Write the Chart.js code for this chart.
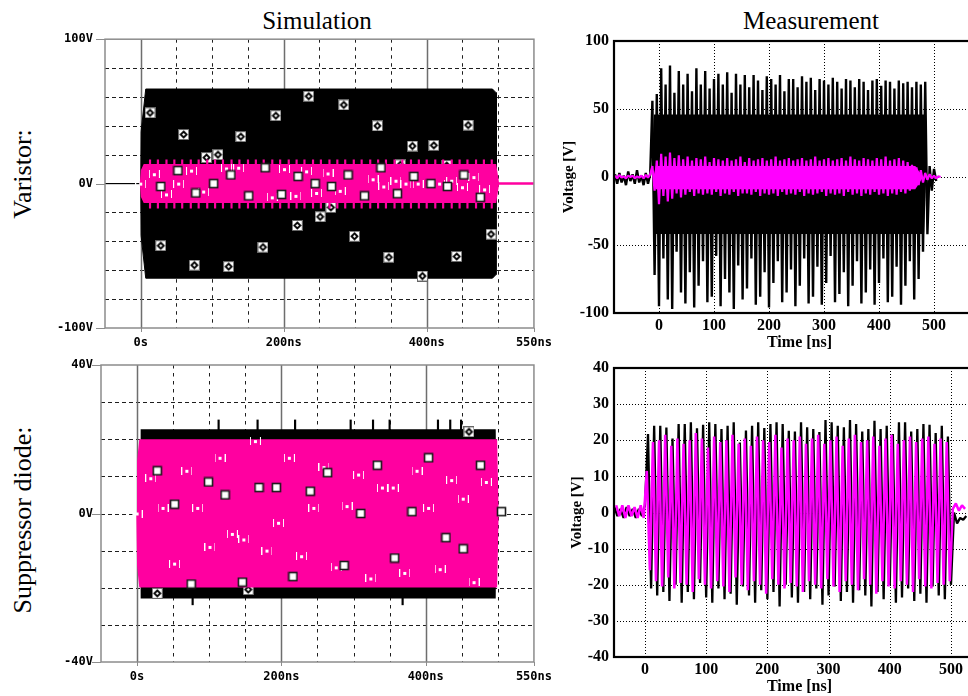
<!DOCTYPE html>
<html lang="en">
<head>
<meta charset="UTF-8">
<meta name="viewport" content="width=device-width, initial-scale=1.0">
<title>Varistor / suppressor diode - simulation vs measurement</title>
<style>
  html, body { margin: 0; padding: 0; background: #fff; }
  body { position: relative; width: 968px; height: 696px; overflow: hidden; color: #000;
         font-family: 'Liberation Serif', 'Times New Roman', serif; }
  .panel { position: absolute; }
  .panel canvas { display: block; }
  .head { position: absolute; top: 8px; font-size: 25px; line-height: 25px; transform: translateX(-50%); white-space: nowrap; }
  .side { position: absolute; font-size: 26px; line-height: 26px; transform: translate(-50%, -50%) rotate(-90deg); white-space: nowrap; }
</style>
</head>
<body>
<div class="head" style="left:317px">Simulation</div>
<div class="head" style="left:811px">Measurement</div>
<div class="side" style="left:23px;top:174px">Varistor:</div>
<div class="side" style="left:23px;top:520px">Suppressor diode:</div>

<div class="panel" style="left:30px;top:20px"><canvas id="simVar" width="530" height="332"></canvas></div>
<div class="panel" style="left:545px;top:25px"><canvas id="measVar" width="440" height="327"></canvas></div>
<div class="panel" style="left:30px;top:345px"><canvas id="simSup" width="530" height="345"></canvas></div>
<div class="panel" style="left:545px;top:352px"><canvas id="measSup" width="440" height="344"></canvas></div>

<script src="https://cdn.jsdelivr.net/npm/chart.js"></script>
<script>
// ---------- simulation (PSpice) axes ----------
const simXTicks = [0, 200, 400, 550];
const simXTickLabels = ['0s', '200ns', '400ns', '550ns'];
const simXGridDashed = [50, 100, 150, 250, 300, 350, 450, 500];
const simXGridSolid = [0, 200, 400];

// ---------- simulation, varistor ----------
const simVarYTicks = [-100, 0, 100];
const simVarYTickLabels = ['-100V', '0V', '100V'];
const simVarYGrid = [-80, -60, -40, -20, 20, 40, 60, 80];

// envelope of the (unresolved) oscillation
const simVarBlackT  = [-50, 0, 0.5, 7, 492, 497, 497.5];
const simVarBlackHi = [0, 0, 36, 65.5, 65.5, 63, 0];
const simVarBlackLo = [0, 0, -36, -65.5, -65.5, -63, 0];
const simVarPinkT  = [0, 1.5, 5, 496, 500, 550];
const simVarPinkHi = [0, 9, 12.8, 12.8, 0, 0];
const simVarPinkLo = [0, -9, -12.8, -12.8, 0, 0];
const simVarSpikeT = [13, 24, 36, 47, 58, 70, 81, 93, 104, 115, 127, 138, 150, 161, 172,
  184, 195, 207, 218, 229, 241, 252, 264, 275, 286, 298, 309, 321, 332, 343, 355, 366,
  378, 389, 400, 412, 423, 435, 446, 457, 469, 480, 491];
const simVarSpikeUp = [12.5, 16.5];
const simVarSpikeDown = [-17, -12.5];

// trace markers
const simVarDiamondT = [13, 28, 60, 75, 92, 108, 123, 140, 171, 189, 219, 235, 251, 266, 284, 299, 331, 347, 363, 380, 394, 410, 428, 442, 458, 490];
const simVarDiamondV = [49, -43, 34, -56.5, 18, 20, -57.5, 32.5, -44, 47, -29, 60.5, -23, -16.5, 54.5, -36.5, 40, -51, 13, 26, -64, 26.5, 12.5, -50.5, 40.5, -35];
const simVarSquareT = [28, 52, 77, 102, 126, 151, 174, 197, 220, 244, 267, 290, 313, 336, 359, 382, 406, 429, 452, 475];
const simVarSquareV = [-2, 9, -6.5, 0, 6, -8.5, 11, -7.5, 5, 0, -2, 6, -8.5, 11, -7, 5, 0, -2, 6, -9.5];
const simVarDotT = [0, 19, 36, 53, 71, 88, 120, 137, 184, 201, 217, 232, 246, 262, 279, 325, 340, 357, 371, 388, 418, 435, 450, 466, 481];
const simVarDotV = [0, 6.5, -7.5, 0, 9, -5.5, 10.5, 11, -9.5, 10, -8.5, 8.5, -6.5, 7, -5, 3, -2, 2, 0, 0, 0, 2, -2.5, 4.5, -4];

// ---------- simulation, suppressor diode ----------
const simSupYTicks = [-40, 0, 40];
const simSupYTickLabels = ['-40V', '0V', '40V'];
const simSupYGrid = [-30, -20, -10, 0, 10, 20, 30];

const simSupBlackT  = [0, 5.5, 6, 496, 497];
const simSupBlackHi = [0, 0, 22.5, 22.5, 0];
const simSupBlackLo = [0, 0, -22.7, -22.7, 0];
const simSupPinkT  = [0, 1, 4, 498, 500, 505];
const simSupPinkHi = [0, 14, 19.8, 19.8, 0, 0];
const simSupPinkLo = [0, -14, -19.7, -19.7, 0, 0];
const simSupSpikeUpT = [113, 167, 219, 296, 327, 350, 417, 434, 449];
const simSupSpikeUp = [22.3, 25.2];
const simSupSpikeDownT = [77, 368];
const simSupSpikeDown = [-24.6, -22.5];

const simSupDiamondT = [28, 154, 460];
const simSupDiamondV = [-21.5, -20.5, 22];
const simSupSquareT = [28, 52, 75, 99, 122, 146, 169, 193, 216, 240, 264, 287, 310, 333, 357, 381, 404, 428, 452, 476, 505];
const simSupSquareV = [11.5, 2.5, -19, 8.5, 5, -18.5, 7, 7, -17, 6, 11, -14, 0, 13, -12, 0.5, 15, -6.5, -9.5, 13, 0.5];
const simSupDotT = [0, 19, 36, 52, 69, 84, 101, 115, 132, 148, 164, 180, 196, 211, 228, 245, 259, 276, 291, 307,
  324, 340, 355, 371, 388, 404, 420, 436, 452, 467, 484];
const simSupDotV = [0, 9.5, 1.5, -13.5, 11.5, 1.5, -9, 15, -5.5, -7, 19.5, -10, -2.5, 15, -11.5, 1.5, 12.5, -14.5, 2, 10.5,
  -17.5, 7, 7, -16, 11.5, 1.5, -15, 9, 4, -18.5, 8.5];

// ---------- measurement axes ----------
const measXTicks = [0, 100, 200, 300, 400, 500];
const measVarYTicks = [-100, -50, 0, 50, 100];
const measSupYTicks = [-40, -30, -20, -10, 0, 10, 20, 30, 40];

// ---------- measurement, varistor (peak samples) ----------
const measVarT = [
  -80, -76, -72, -68, -64, -60, -56, -52, -48, -44, -40, -36, -32, -28, -24,
  -20, -16, -12, -8, -4, 0, 4, 8, 12, 16, 20, 24, 28, 32, 36,
  40, 44, 48, 52, 56, 60, 64, 68, 72, 76, 80, 84, 88, 92, 96,
  100, 104, 108, 112, 116, 120, 124, 128, 132, 136, 140, 144, 148, 152, 156,
  160, 164, 168, 172, 176, 180, 184, 188, 192, 196, 200, 204, 208, 212, 216,
  220, 224, 228, 232, 236, 240, 244, 248, 252, 256, 260, 264, 268, 272, 276,
  280, 284, 288, 292, 296, 300, 304, 308, 312, 316, 320, 324, 328, 332, 336,
  340, 344, 348, 352, 356, 360, 364, 368, 372, 376, 380, 384, 388, 392, 396,
  400, 404, 408, 412, 416, 420, 424, 428, 432, 436, 440, 444, 448, 452, 456,
  460, 464, 468, 472, 476, 480, 484, 488, 492, 496, 500, 504, 508, 512, 516
];
const measVarBlack = [
  2, -5, 3, -4, 1, -6, 4, -3, 2, -5, 5, -4, 1, -6, 3, -5, 2,
  56, -72, 61, -95, 80, -60, 68, -90, 82, -97, 62, -55, 78, -85, 68, -93, 76, -70, 63, -96,
  80, -80, 68, -62, 78, -92, 65, -88, 72, -58, 76, -95, 68, -75, 77, -85, 62, -97, 76, -65,
  68, -90, 75, -82, 66, -60, 75, -94, 71, -88, 64, -70, 74, -96, 72, -78, 68, -62, 75, -92,
  63, -85, 72, -68, 72, -95, 66, -80, 74, -60, 70, -93, 73, -88, 64, -66, 72, -94, 71, -78,
  68, -58, 73, -92, 70, -86, 65, -70, 72, -95, 71, -80, 66, -62, 72, -93, 70, -85, 64, -68,
  71, -94, 72, -78, 67, -60, 71, -92, 70, -88, 65, -66, 71, -94, 69, -80, 70, -62, 66, -90,
  70, -75, 68, -55, 70,
  -42, 8, -10, 6, -3, null, null, null
];
const measVarMagenta = [
  1, -1, 1.5, -0.5, 0.5, -1, 1, 0, 1, -1, 0.5, -0.5, 1, -1, 1.5, -0.5, 2,
  8, -10, 12, -20, 17, -14, 15, -18, 18, -16, 14, -12, 16, -15, 13, -13, 15, -11, 12, -14,
  14, -12, 13, -13, 15, -12, 11, -13, 14, -11, 13, -14, 12, -12, 14, -13, 12, -11, 13, -14,
  15, -12, 11, -12, 14, -13, 12, -11, 13, -14, 14, -12, 12, -13, 13, -12, 15, -14, 12, -11,
  13, -13, 14, -12, 12, -13, 13, -11, 14, -14, 12, -12, 13, -13, 15, -12, 12, -11, 13, -14,
  14, -12, 12, -13, 13, -12, 14, -14, 12, -11, 15, -13, 13, -12, 12, -14, 14, -12, 13, -13,
  12, -11, 14, -13, 13, -12, 15, -14, 12, -12, 13, -13, 14, -11, 12, -12, 11, -10, 9, -8,
  7, -6, 5, -4, 3,
  -2, 2, -1, 1, -1, 0.5, 0, null
];
// dense centre of the black and magenta bursts
const measVarCoreT  = [-12, -9, 482, 486];
const measVarCoreHi = [0, 46, 46, 0];
const measVarCoreLo = [0, -42, -42, 0];
const measVarMagCoreT  = [-10, -6, 466, 480];
const measVarMagCoreHi = [0, 8, 8, 0];
const measVarMagCoreLo = [0, -9, -9, 0];

// ---------- measurement, suppressor diode (peak samples) ----------
const measSupBlackT = [
  -50, -45, -40, -35, -30, -25, -20, -15, -10, -5,
  0, 5, 10, 15, 20, 25, 30, 35, 40, 45,
  50, 55, 60, 65, 70, 75, 80, 85, 90, 95,
  100, 105, 110, 115, 120, 125, 130, 135, 140, 145,
  150, 155, 160, 165, 170, 175, 180, 185, 190, 195,
  200, 205, 210, 215, 220, 225, 230, 235, 240, 245,
  250, 255, 260, 265, 270, 275, 280, 285, 290, 295,
  300, 305, 310, 315, 320, 325, 330, 335, 340, 345,
  350, 355, 360, 365, 370, 375, 380, 385, 390, 395,
  400, 405, 410, 415, 420, 425, 430, 435, 440, 445,
  450, 455, 460, 465, 470, 475, 480, 485, 490, 495,
  500, 505, 510, 515, 520, 525
];
const measSupBlack = [
  1.5, -1, 1, -1.5, 1.5, -1, 1, -1.5, 1, -1,
  2,
  21.7, -21, 24, -23, 24, -22, 23.5, -24.5, 20.5, -20, 24.5, -25, 24.5, -22, 25, -24, 23.3, -19.5, 24.3, -23.5,
  25, -25, 24.5, -21, 23.1, -24, 24, -22.5, 25, -25.5, 19.4, -20.5, 22.7, -23, 24, -25, 25, -21.5, 23.4, -24,
  24.5, -22, 25, -26, 24.5, -20, 22.6, -23.5, 22.4, -25, 25, -22, 23.6, -24, 23.1, -21, 22.3, -25.5, 25.6, -23,
  25, -20.5, 24, -24.5, 23.6, -22, 25.6, -25, 24.5, -21.5, 22.4, -23, 23.1, -26, 25.4, -22, 23.1, -24, 24, -20,
  21.7, -25, 25, -23.5, 25, -21, 22.4, -24.5, 23.1, -22.5, 24.5, -25, 24.3, -20.5, 22, -23, 24, -24, 21, -20,
  0, -3, -1.5, -2, -1
];
const measSupMagT = [
  -47, -42, -37, -32, -27, -22, -17, -12, -7, -2,
  3, 8, 13, 18, 23, 28, 33, 38, 43, 48,
  53, 58, 63, 68, 73, 78, 83, 88, 93, 98,
  103, 108, 113, 118, 123, 128, 133, 138, 143, 148,
  153, 158, 163, 168, 173, 178, 183, 188, 193, 198,
  203, 208, 213, 218, 223, 228, 233, 238, 243, 248,
  253, 258, 263, 268, 273, 278, 283, 288, 293, 298,
  303, 308, 313, 318, 323, 328, 333, 338, 343, 348,
  353, 358, 363, 368, 373, 378, 383, 388, 393, 398,
  403, 408, 413, 418, 423, 428, 433, 438, 443, 448,
  453, 458, 463, 468, 473, 478, 483, 488, 493, 498,
  503, 508, 513, 518, 523
];
const measSupMagenta = [
  2, -1, 2, -1.5, 2, -1, 1.5, -1.5, 2, -1.5,
  11.5, -16, 19.5, -19, 20, -20.5, 21.5, -18, 18.5, -21, 20.5, -19.5, 19, -20, 20, -22, 22, -18.5, 20.5, -20,
  18, -21, 21, -19, 19.5, -20.5, 20, -22, 21.5, -18, 19, -20, 20.5, -21.5, 18.5, -19, 21, -20, 20, -22.5,
  19.5, -18.5, 21.5, -20, 18, -21, 20.5, -19.5, 20, -20.5, 21, -22, 19, -19, 20.5, -20, 21.5, -21, 19, -18.5,
  20, -20.5, 21, -22, 18.5, -19, 20.5, -20, 21.5, -21.5, 19.5, -18.5, 20, -20, 21, -22.5, 18.5, -19, 20.5, -20.5,
  21.5, -21, 19, -19, 20, -20, 21, -22, 19.5, -18.5, 20.5, -20.5, 21, -21, 19, -19.5, 20.5, -20, 19.5, -19,
  1, 2.5, 0.5, 2, 1
];

// ---------- helpers ----------
const PINK = '#ff00a0';
const MAGENTA = '#ff00ff';
const pts = (T, V) => T.map((t, i) => ({ x: t, y: V[i] }));
const bars = (T, range) => T.map(t => ({ x: t, y: range }));

function mark(w, h, paint) {
  const c = document.createElement('canvas');
  c.width = w;
  c.height = h;
  paint(c.getContext('2d'));
  return c;
}
const squareMark = mark(11, 11, g => {
  g.fillStyle = '#fff';
  g.fillRect(1, 1, 9, 9);
  g.strokeStyle = '#1a1a1a';
  g.lineWidth = 1.6;
  g.strokeRect(1.5, 1.5, 8, 8);
});
const diamondMark = mark(11, 11, g => {
  g.fillStyle = '#fff';
  g.fillRect(0, 0, 11, 11);
  g.strokeStyle = '#666';
  g.lineWidth = 1;
  g.strokeRect(0.5, 0.5, 10, 10);
  g.strokeStyle = '#000';
  g.lineWidth = 1.8;
  g.beginPath();
  g.moveTo(5.5, 2.5); g.lineTo(8.5, 5.5); g.lineTo(5.5, 8.5); g.lineTo(2.5, 5.5);
  g.closePath();
  g.stroke();
});
const dotMark = mark(11, 8, g => {
  g.fillStyle = '#fff';
  g.fillRect(0, 0, 1, 8);
  g.fillRect(10, 0, 1, 8);
  g.fillRect(4, 3, 3, 3);
});

// grid lines + frame, drawn through the chart's own scales
const gridFrame = {
  id: 'gridFrame',
  beforeDatasetsDraw(chart, args, o) {
    const { ctx, chartArea: a, scales: { x, y } } = chart;
    const vline = v => { const p = Math.round(x.getPixelForValue(v)) + 0.5; ctx.beginPath(); ctx.moveTo(p, a.top); ctx.lineTo(p, a.bottom); ctx.stroke(); };
    const hline = v => { const p = Math.round(y.getPixelForValue(v)) + 0.5; ctx.beginPath(); ctx.moveTo(a.left, p); ctx.lineTo(a.right, p); ctx.stroke(); };
    ctx.save();
    ctx.strokeStyle = o.gridColor;
    ctx.lineWidth = o.gridWidth;
    ctx.setLineDash(o.xDash);
    o.xLines.forEach(vline);
    ctx.setLineDash(o.yDash);
    o.yLines.forEach(hline);
    if (o.solidLines) {
      ctx.setLineDash([]);
      ctx.strokeStyle = o.solidColor;
      ctx.lineWidth = o.solidWidth;
      o.solidLines.forEach(vline);
    }
    ctx.restore();
  },
  afterDatasetsDraw(chart, args, o) {
    const { ctx, chartArea: a, scales: { x, y } } = chart;
    ctx.save();
    ctx.strokeStyle = o.frameColor;
    ctx.lineWidth = o.frameWidth;
    ctx.strokeRect(a.left, a.top, a.right - a.left, a.bottom - a.top);
    if (o.tickLen) {
      ctx.lineWidth = 1;
      o.yTicks.forEach(v => { const p = Math.round(y.getPixelForValue(v)) + 0.5; ctx.beginPath(); ctx.moveTo(a.left - o.tickLen, p); ctx.lineTo(a.left, p); ctx.stroke(); });
      o.xTicks.forEach(v => { const p = Math.round(x.getPixelForValue(v)) + 0.5; ctx.beginPath(); ctx.moveTo(p, a.bottom); ctx.lineTo(p, a.bottom + 4); ctx.stroke(); });
    }
    ctx.restore();
  }
};

Chart.defaults.color = '#000';
const pspiceFont = { family: "'DejaVu Sans Mono', monospace", size: 12, weight: 'bold' };
const measFont = { family: "'Liberation Serif', serif", size: 16, weight: 'bold' };

function simOptions(o) {
  return {
    responsive: false, animation: false, devicePixelRatio: 1, events: [],
    layout: { padding: { top: o.padTop, right: 26, left: 0, bottom: 0 } },
    plugins: {
      legend: { display: false }, tooltip: { enabled: false },
      gridFrame: {
        xLines: simXGridDashed, yLines: o.yGrid, xDash: [3.5, 4.5], yDash: [4, 3],
        gridColor: '#1e1e1e', gridWidth: 1,
        solidLines: simXGridSolid, solidColor: '#6e6e6e', solidWidth: 1.5,
        frameColor: '#8c8c8c', frameWidth: 1.5,
        tickLen: 9, yTicks: o.yTicks, xTicks: simXTicks
      }
    },
    scales: {
      x: {
        type: 'linear', min: -50, max: 550, offset: false,
        afterBuildTicks: s => { s.ticks = simXTicks.map(v => ({ value: v })); },
        afterFit: s => { s.height = o.xAxisH; },
        grid: { display: false, drawTicks: false }, border: { display: false },
        ticks: { padding: 8, font: pspiceFont, maxRotation: 0, autoSkip: false, callback: (v, i) => simXTickLabels[i] }
      },
      y: {
        type: 'linear', min: o.yTicks[0], max: o.yTicks[o.yTicks.length - 1],
        afterBuildTicks: s => { s.ticks = o.yTicks.map(v => ({ value: v })); },
        afterFit: s => { s.width = o.yAxisW; },
        grid: { display: false, drawTicks: false }, border: { display: false },
        ticks: { padding: o.yPad, font: pspiceFont, autoSkip: false, callback: (v, i) => o.yLabels[i] }
      }
    }
  };
}

function measOptions(o) {
  return {
    responsive: false, animation: false, devicePixelRatio: 1, events: [],
    layout: { padding: { top: 16, right: 0, left: 0, bottom: 0 } },
    elements: { line: { borderJoinStyle: 'bevel' } },
    plugins: {
      legend: { display: false }, tooltip: { enabled: false },
      gridFrame: {
        xLines: measXTicks, yLines: o.yTicks, xDash: [1, 2], yDash: [1, 2],
        gridColor: '#000', gridWidth: 1, frameColor: '#000', frameWidth: 2.2
      }
    },
    scales: {
      x: {
        type: 'linear', min: o.xMin, max: o.xMax, offset: false,
        afterBuildTicks: s => { s.ticks = measXTicks.map(v => ({ value: v })); },
        afterFit: s => { s.height = 39; },
        grid: { display: false, drawTicks: false }, border: { display: false },
        ticks: { padding: 3, font: measFont, maxRotation: 0, autoSkip: false, callback: v => String(v) },
        title: { display: true, text: 'Time [ns]', font: measFont, padding: 0 }
      },
      y: {
        type: 'linear', min: o.yTicks[0], max: o.yTicks[o.yTicks.length - 1],
        afterBuildTicks: s => { s.ticks = o.yTicks.map(v => ({ value: v })); },
        afterFit: s => { s.width = 69; },
        grid: { display: false, drawTicks: false }, border: { display: false },
        ticks: { padding: 5, font: measFont, autoSkip: false, callback: v => String(v) },
        title: { display: true, text: 'Voltage [V]', font: { family: "'Liberation Serif', serif", size: 15, weight: 'bold' },
                 padding: { top: o.yTitlePad, bottom: 0 } }
      }
    }
  };
}

// ---------- simulation, varistor ----------
new Chart(document.getElementById('simVar'), {
  type: 'line',
  data: {
    datasets: [
      { data: pts(simVarBlackT, simVarBlackHi), borderColor: '#000', backgroundColor: '#000', borderWidth: 1, fill: '+1', pointRadius: 0, order: 10 },
      { data: pts(simVarBlackT, simVarBlackLo), borderColor: '#000', borderWidth: 1, fill: false, pointRadius: 0, order: 10 },
      { data: pts(simVarDiamondT, simVarDiamondV), showLine: false, pointStyle: diamondMark, pointRadius: 5, order: 9 },
      { data: pts(simVarPinkT, simVarPinkHi), borderColor: PINK, backgroundColor: PINK, borderWidth: 2, fill: '+1', pointRadius: 0, order: 8 },
      { data: pts(simVarPinkT, simVarPinkLo), borderColor: PINK, borderWidth: 2, fill: false, pointRadius: 0, order: 8 },
      { type: 'bar', data: bars(simVarSpikeT, simVarSpikeUp).concat(bars(simVarSpikeT, simVarSpikeDown)),
        backgroundColor: PINK, barThickness: 1.5, grouped: false, order: 7 },
      { data: pts(simVarDotT, simVarDotV), showLine: false, pointStyle: dotMark, pointRadius: 5, order: 6 },
      { data: pts(simVarSquareT, simVarSquareV), showLine: false, pointStyle: squareMark, pointRadius: 5, order: 5 }
    ]
  },
  options: simOptions({ padTop: 18, xAxisH: 24, yAxisW: 75, yPad: 12, yTicks: simVarYTicks, yLabels: simVarYTickLabels, yGrid: simVarYGrid }),
  plugins: [gridFrame]
});

// ---------- simulation, suppressor diode ----------
new Chart(document.getElementById('simSup'), {
  type: 'line',
  data: {
    datasets: [
      { data: pts(simSupBlackT, simSupBlackHi), borderColor: '#000', backgroundColor: '#000', borderWidth: 1.5, fill: '+1', pointRadius: 0, order: 10 },
      { data: pts(simSupBlackT, simSupBlackLo), borderColor: '#000', borderWidth: 1.5, fill: false, pointRadius: 0, order: 10 },
      { type: 'bar', data: bars(simSupSpikeUpT, simSupSpikeUp).concat(bars(simSupSpikeDownT, simSupSpikeDown)),
        backgroundColor: '#000', barThickness: 1.5, grouped: false, order: 10 },
      { data: pts(simSupDiamondT, simSupDiamondV), showLine: false, pointStyle: diamondMark, pointRadius: 5, order: 9 },
      { data: pts(simSupPinkT, simSupPinkHi), borderColor: PINK, backgroundColor: PINK, borderWidth: 1.5, fill: '+1', pointRadius: 0, order: 8 },
      { data: pts(simSupPinkT, simSupPinkLo), borderColor: PINK, borderWidth: 1.5, fill: false, pointRadius: 0, order: 8 },
      { data: pts(simSupDotT, simSupDotV), showLine: false, pointStyle: dotMark, pointRadius: 5, order: 6 },
      { data: pts(simSupSquareT, simSupSquareV), showLine: false, pointStyle: squareMark, pointRadius: 5, order: 5 }
    ]
  },
  options: simOptions({ padTop: 20, xAxisH: 28, yAxisW: 71, yPad: 8, yTicks: simSupYTicks, yLabels: simSupYTickLabels, yGrid: simSupYGrid }),
  plugins: [gridFrame]
});

// ---------- measurement, varistor ----------
new Chart(document.getElementById('measVar'), {
  type: 'line',
  data: {
    datasets: [
      { data: pts(measVarCoreT, measVarCoreHi), borderWidth: 0, borderColor: '#000', backgroundColor: '#000', fill: '+1', pointRadius: 0, order: 6 },
      { data: pts(measVarCoreT, measVarCoreLo), borderWidth: 0, borderColor: '#000', fill: false, pointRadius: 0, order: 6 },
      { data: pts(measVarT, measVarBlack), borderColor: '#000', borderWidth: 2.4, fill: false, pointRadius: 0, order: 4 },
      { data: pts(measVarMagCoreT, measVarMagCoreHi), borderWidth: 0, borderColor: MAGENTA, backgroundColor: MAGENTA, fill: '+1', pointRadius: 0, order: 3 },
      { data: pts(measVarMagCoreT, measVarMagCoreLo), borderWidth: 0, borderColor: MAGENTA, fill: false, pointRadius: 0, order: 3 },
      { data: pts(measVarT, measVarMagenta), borderColor: MAGENTA, borderWidth: 2.2, fill: false, pointRadius: 0, order: 2 }
    ]
  },
  options: measOptions({ xMin: -81.8, xMax: 592.7, yTicks: measVarYTicks, yTitlePad: 15 }),
  plugins: [gridFrame]
});

// ---------- measurement, suppressor diode ----------
new Chart(document.getElementById('measSup'), {
  type: 'line',
  data: {
    datasets: [
      { data: pts(measSupBlackT, measSupBlack), borderColor: '#000', borderWidth: 2.3, fill: false, pointRadius: 0, order: 4 },
      { data: pts(measSupMagT, measSupMagenta), borderColor: MAGENTA, borderWidth: 2.5, fill: false, pointRadius: 0, order: 2 }
    ]
  },
  options: measOptions({ xMin: -50.6, xMax: 555.6, yTicks: measSupYTicks, yTitlePad: 23 }),
  plugins: [gridFrame]
});
</script>
</body>
</html>
